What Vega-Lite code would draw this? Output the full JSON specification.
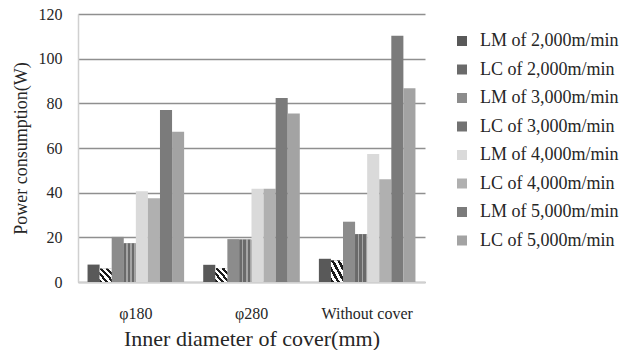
{
  "$schema": "https://vega.github.io/schema/vega-lite/v6.json",
  "width": 347,
  "height": 268,
  "autosize": {"type": "none"},
  "padding": {"left": 78, "top": 14, "right": 213, "bottom": 68},
  "background": "white",
  "config": {
    "font": "Liberation Serif",
    "view": {"stroke": null}
  },
  "data": {
    "values": [
      {"group": "φ180", "series": "LM of 2,000m/min", "value": 7.8},
      {"group": "φ180", "series": "LC of 2,000m/min", "value": 6.0},
      {"group": "φ180", "series": "LM of 3,000m/min", "value": 20.2},
      {"group": "φ180", "series": "LC of 3,000m/min", "value": 17.3},
      {"group": "φ180", "series": "LM of 4,000m/min", "value": 40.6},
      {"group": "φ180", "series": "LC of 4,000m/min", "value": 37.5},
      {"group": "φ180", "series": "LM of 5,000m/min", "value": 77.0},
      {"group": "φ180", "series": "LC of 5,000m/min", "value": 67.3},
      {"group": "φ280", "series": "LM of 2,000m/min", "value": 7.7},
      {"group": "φ280", "series": "LC of 2,000m/min", "value": 6.2},
      {"group": "φ280", "series": "LM of 3,000m/min", "value": 19.2},
      {"group": "φ280", "series": "LC of 3,000m/min", "value": 19.0},
      {"group": "φ280", "series": "LM of 4,000m/min", "value": 41.8},
      {"group": "φ280", "series": "LC of 4,000m/min", "value": 41.8},
      {"group": "φ280", "series": "LM of 5,000m/min", "value": 82.4},
      {"group": "φ280", "series": "LC of 5,000m/min", "value": 75.5},
      {"group": "Without cover", "series": "LM of 2,000m/min", "value": 10.4},
      {"group": "Without cover", "series": "LC of 2,000m/min", "value": 9.6},
      {"group": "Without cover", "series": "LM of 3,000m/min", "value": 27.0},
      {"group": "Without cover", "series": "LC of 3,000m/min", "value": 21.4},
      {"group": "Without cover", "series": "LM of 4,000m/min", "value": 57.3},
      {"group": "Without cover", "series": "LC of 4,000m/min", "value": 46.0},
      {"group": "Without cover", "series": "LM of 5,000m/min", "value": 110.3},
      {"group": "Without cover", "series": "LC of 5,000m/min", "value": 86.8}
    ]
  },
  "encoding": {
    "x": {
      "field": "group",
      "type": "nominal",
      "sort": null,
      "scale": {"paddingInner": 0.165, "paddingOuter": 0.0825},
      "axis": {
        "title": "Inner diameter of cover(mm)",
        "titleFont": "Liberation Serif",
        "titleFontSize": 22,
        "titleFontWeight": "normal",
        "titleColor": "#262626",
        "titlePadding": 7,
        "labelFont": "Liberation Serif",
        "labelFontSize": 16,
        "labelColor": "#262626",
        "labelAngle": 0,
        "labelPadding": 23,
        "ticks": false,
        "grid": false,
        "domainColor": "#d0d0d0",
        "domainWidth": 1.5
      }
    },
    "xOffset": {
      "field": "series",
      "type": "nominal",
      "scale": {
        "domain": ["LM of 2,000m/min", "LC of 2,000m/min", "LM of 3,000m/min", "LC of 3,000m/min", "LM of 4,000m/min", "LC of 4,000m/min", "LM of 5,000m/min", "LC of 5,000m/min"],
        "paddingInner": 0,
        "paddingOuter": 0
      }
    },
    "y": {
      "field": "value",
      "type": "quantitative",
      "scale": {"domain": [0, 120], "nice": false},
      "axis": {
        "values": [0, 20, 40, 60, 80, 100, 120],
        "title": "Power consumption(W)",
        "titleFont": "Liberation Serif",
        "titleFontSize": 18,
        "titleFontWeight": "normal",
        "titleColor": "#262626",
        "titlePadding": 8,
        "labelFont": "Liberation Serif",
        "labelFontSize": 16,
        "labelColor": "#262626",
        "labelPadding": 16,
        "ticks": false,
        "grid": true,
        "gridColor": "#8f8f8f",
        "gridWidth": 1.6,
        "domainColor": "#d0d0d0",
        "domainWidth": 1.5
      }
    }
  },
  "layer": [
    {
      "mark": {"type": "bar"},
      "encoding": {
        "color": {
          "field": "series",
          "type": "nominal",
          "scale": {
            "domain": ["LM of 2,000m/min", "LC of 2,000m/min", "LM of 3,000m/min", "LC of 3,000m/min", "LM of 4,000m/min", "LC of 4,000m/min", "LM of 5,000m/min", "LC of 5,000m/min"],
            "range": ["#595959", "#6a6a6a", "#8c8c8c", "#727272", "#dadada", "#b0b0b0", "#7b7b7b", "#a3a3a3"]
          },
          "legend": {
            "title": null,
            "orient": "none",
            "legendX": 375,
            "legendY": 18,
            "symbolType": "square",
            "symbolSize": 100,
            "symbolStrokeWidth": 0,
            "labelFont": "Liberation Serif",
            "labelFontSize": 18,
            "labelColor": "#262626",
            "labelOffset": 9,
            "labelLimit": 200,
            "rowPadding": 10.5
          }
        }
      }
    },
    {
      "transform": [{"filter": "datum.series === 'LC of 2,000m/min'"}],
      "mark": {
        "type": "bar",
        "fill": {
          "gradient": "linear",
          "x1": 0, "y1": 1, "x2": 1, "y2": 0,
          "stops": [
            {"offset": 0, "color": "#1a1a1a"},
            {"offset": 0.12, "color": "#1a1a1a"},
            {"offset": 0.12, "color": "#ffffff"},
            {"offset": 0.25, "color": "#ffffff"},
            {"offset": 0.25, "color": "#1a1a1a"},
            {"offset": 0.37, "color": "#1a1a1a"},
            {"offset": 0.37, "color": "#ffffff"},
            {"offset": 0.5, "color": "#ffffff"},
            {"offset": 0.5, "color": "#1a1a1a"},
            {"offset": 0.62, "color": "#1a1a1a"},
            {"offset": 0.62, "color": "#ffffff"},
            {"offset": 0.75, "color": "#ffffff"},
            {"offset": 0.75, "color": "#1a1a1a"},
            {"offset": 0.87, "color": "#1a1a1a"},
            {"offset": 0.87, "color": "#ffffff"},
            {"offset": 1, "color": "#ffffff"}
          ]
        }
      }
    },
    {
      "transform": [{"filter": "datum.series === 'LC of 3,000m/min'"}],
      "mark": {
        "type": "bar",
        "fill": {
          "gradient": "linear",
          "x1": 0, "y1": 0, "x2": 1, "y2": 0,
          "stops": [
            {"offset": 0, "color": "#6a6a6a"},
            {"offset": 0.2, "color": "#6a6a6a"},
            {"offset": 0.2, "color": "#a5a5a5"},
            {"offset": 0.33, "color": "#a5a5a5"},
            {"offset": 0.33, "color": "#6a6a6a"},
            {"offset": 0.55, "color": "#6a6a6a"},
            {"offset": 0.55, "color": "#a5a5a5"},
            {"offset": 0.68, "color": "#a5a5a5"},
            {"offset": 0.68, "color": "#6a6a6a"},
            {"offset": 0.88, "color": "#6a6a6a"},
            {"offset": 0.88, "color": "#a5a5a5"},
            {"offset": 1, "color": "#a5a5a5"}
          ]
        }
      }
    }
  ]
}
